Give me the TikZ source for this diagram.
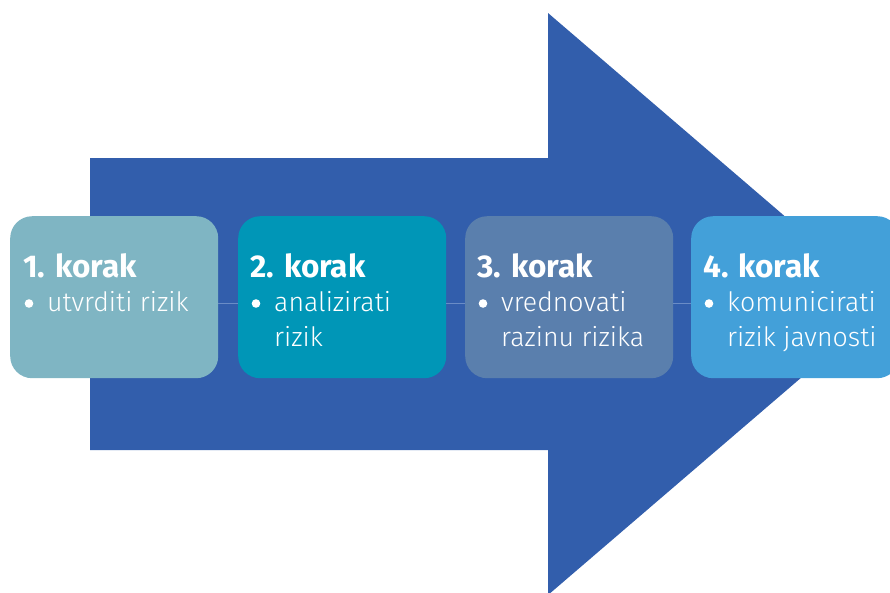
\documentclass[tikz,border=0pt]{standalone}
\usepackage{fontspec}
\setmainfont{Fira Sans}
\newfontfamily\lightfont{Fira Sans Light}
\definecolor{arrowblue}{HTML}{325EAC}
\definecolor{cA}{HTML}{7FB5C3}
\definecolor{cB}{HTML}{0096B7}
\definecolor{cC}{HTML}{5A7FAD}
\definecolor{cD}{HTML}{43A0D9}
\definecolor{linec}{HTML}{6A8CC6}
\tikzset{
  stepbox/.style={rounded corners=22pt, minimum width=208pt, minimum height=162pt, inner sep=0pt, anchor=north west, draw=none},
  title/.style={anchor=base west, inner sep=0pt, text=white, font=\fontsize{31.5}{36}\selectfont\bfseries},
  body/.style={anchor=base west, inner sep=0pt, text=white, font=\fontsize{26.7}{35}\selectfont\lightfont},
  dot/.style={circle, fill=white, inner sep=0pt, minimum size=8.6pt},
  conn/.style={linec, line width=1pt}
}
\begin{document}
\begin{tikzpicture}[x=1pt,y=-1pt]
\useasboundingbox (0,0) rectangle (890,592);
\clip (0,0) rectangle (890,592);
% big arrow
\fill[arrowblue] (90,158) -- (548,158) -- (548,13) -- (887,304) -- (548,595) -- (548,450) -- (90,450) -- cycle;
% boxes
\node[stepbox, fill=cA] (b1) at (10,216) {};
\node[stepbox, fill=cB] (b2) at (238,216) {};
\node[stepbox, fill=cC] (b3) at (465,216) {};
\node[stepbox, fill=cD] (b4) at (691,216) {};
% connectors
\draw[conn] ([yshift=-6pt]b1.east) -- ([yshift=-6pt]b2.west);
\draw[conn] ([yshift=-6pt]b2.east) -- ([yshift=-6pt]b3.west);
\draw[conn] ([yshift=-6pt]b3.east) -- ([yshift=-6pt]b4.west);
% texts
\node[title] (t1) at (23,277) {1. korak};
\node[dot] (u1) at (29,303.5) {};
\node[body] (a1) at (47,311) {utvrditi rizik};

\node[title] (t2) at (250,277) {2. korak};
\node[dot] (u2) at (256,303.5) {};
\node[body] (a2) at (274,311) {analizirati};
\node[body] (c2) at (274,346) {rizik};

\node[title] (t3) at (477,277) {3. korak};
\node[dot] (u3) at (483,303.5) {};
\node[body] (a3) at (501,311) {vrednovati};
\node[body] (c3) at (501,346) {razinu rizika};

\node[title] (t4) at (703,277) {4. korak};
\node[dot] (u4) at (709,303.5) {};
\node[body] (a4) at (727,311) {komunicirati};
\node[body] (c4) at (727,346) {rizik javnosti};
\end{tikzpicture}
\end{document}
